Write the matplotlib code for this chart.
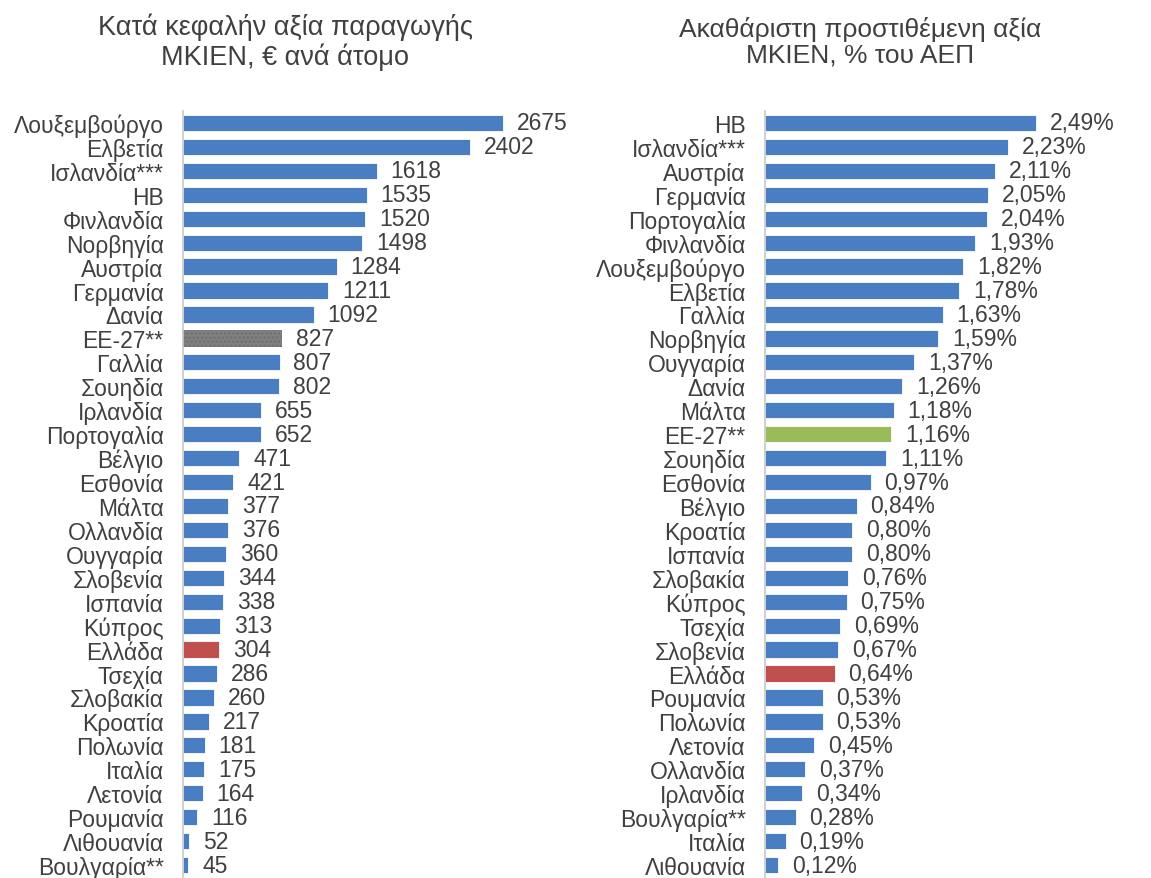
import matplotlib.pyplot as plt

plt.rcParams['font.family'] = ['Liberation Sans', 'DejaVu Sans']

# Left chart: per capita production value, EUR per person
left_countries = ["Λουξεμβούργο", "Ελβετία", "Ισλανδία***", "ΗΒ", "Φινλανδία", "Νορβηγία",
                  "Αυστρία", "Γερμανία", "Δανία", "ΕΕ-27**", "Γαλλία", "Σουηδία", "Ιρλανδία",
                  "Πορτογαλία", "Βέλγιο", "Εσθονία", "Μάλτα", "Ολλανδία", "Ουγγαρία",
                  "Σλοβενία", "Ισπανία", "Κύπρος", "Ελλάδα", "Τσεχία", "Σλοβακία", "Κροατία",
                  "Πολωνία", "Ιταλία", "Λετονία", "Ρουμανία", "Λιθουανία", "Βουλγαρία**"]
left_values = [2675, 2402, 1618, 1535, 1520, 1498, 1284, 1211, 1092, 827, 807, 802, 655,
               652, 471, 421, 377, 376, 360, 344, 338, 313, 304, 286, 260, 217, 181, 175,
               164, 116, 52, 45]

# Right chart: gross value added, % of GDP
right_countries = ["ΗΒ", "Ισλανδία***", "Αυστρία", "Γερμανία", "Πορτογαλία", "Φινλανδία",
                   "Λουξεμβούργο", "Ελβετία", "Γαλλία", "Νορβηγία", "Ουγγαρία", "Δανία",
                   "Μάλτα", "ΕΕ-27**", "Σουηδία", "Εσθονία", "Βέλγιο", "Κροατία", "Ισπανία",
                   "Σλοβακία", "Κύπρος", "Τσεχία", "Σλοβενία", "Ελλάδα", "Ρουμανία", "Πολωνία",
                   "Λετονία", "Ολλανδία", "Ιρλανδία", "Βουλγαρία**", "Ιταλία", "Λιθουανία"]
right_values = [2.49, 2.23, 2.11, 2.05, 2.04, 1.93, 1.82, 1.78, 1.63, 1.59, 1.37, 1.26, 1.18,
                1.16, 1.11, 0.97, 0.84, 0.80, 0.80, 0.76, 0.75, 0.69, 0.67, 0.64, 0.53, 0.53,
                0.45, 0.37, 0.34, 0.28, 0.19, 0.12]

blue = "#4A7EC2"
red = "#C0504D"
grey = "#7F7F7F"
green = "#9BBB59"
txt = "#404040"

fig = plt.figure(figsize=(11.51, 8.79), dpi=100)
ax1 = fig.add_axes([183 / 1151, 1 / 879, 347 / 1151, 766 / 879])
ax2 = fig.add_axes([765 / 1151, 1 / 879, 305 / 1151, 766 / 879])


def draw(ax, names, vals, special, special_col, xmax, fmt):
    cols = []
    for n in names:
        if n == "Ελλάδα":
            cols.append(red)
        elif n == special:
            cols.append(special_col)
        else:
            cols.append(blue)
    y = list(range(len(names)))
    bars = ax.barh(y, vals, height=0.68, color=cols, edgecolor="white", linewidth=0.6)
    if special_col == grey:
        idx = names.index(special)
        bars[idx].set_hatch("....")
        bars[idx].set_edgecolor("#6E6E6E")
        bars[idx].set_linewidth(0)
    ax.set_yticks(y)
    ax.set_yticklabels(names, fontsize=16.5, color=txt)
    ax.tick_params(axis="y", length=0, pad=14)
    ax.set_ylim(len(names) - 0.5, -0.5)
    ax.set_xlim(0, xmax)
    ax.set_xticks([])
    for s in ["top", "right", "bottom"]:
        ax.spines[s].set_visible(False)
    ax.spines["left"].set_color("#C8C8C8")
    ax.spines["left"].set_linewidth(1.2)
    for yi, v in zip(y, vals):
        ax.annotate(fmt(v), (v, yi), xytext=(10, 0), textcoords="offset points",
                    va="center", ha="left", fontsize=16.5, color=txt)


draw(ax1, left_countries, left_values, "ΕΕ-27**", grey, 2900, lambda v: f"{v}")
draw(ax2, right_countries, right_values, "ΕΕ-27**", green, 2.8,
     lambda v: f"{v:.2f}".replace(".", ",") + "%")

fig.text(285 / 1151, 1 - 42 / 879, "Κατά κεφαλήν αξία παραγωγής\nΜΚΙΕΝ, € ανά άτομο",
         ha="center", va="center", fontsize=19.5, color=txt, linespacing=1.1)
fig.text(860 / 1151, 1 - 42 / 879, "Ακαθάριστη προστιθέμενη αξία\nΜΚΙΕΝ, % του ΑΕΠ",
         ha="center", va="center", fontsize=19, color=txt, linespacing=1.1)

fig.savefig("out.png", dpi=100)
